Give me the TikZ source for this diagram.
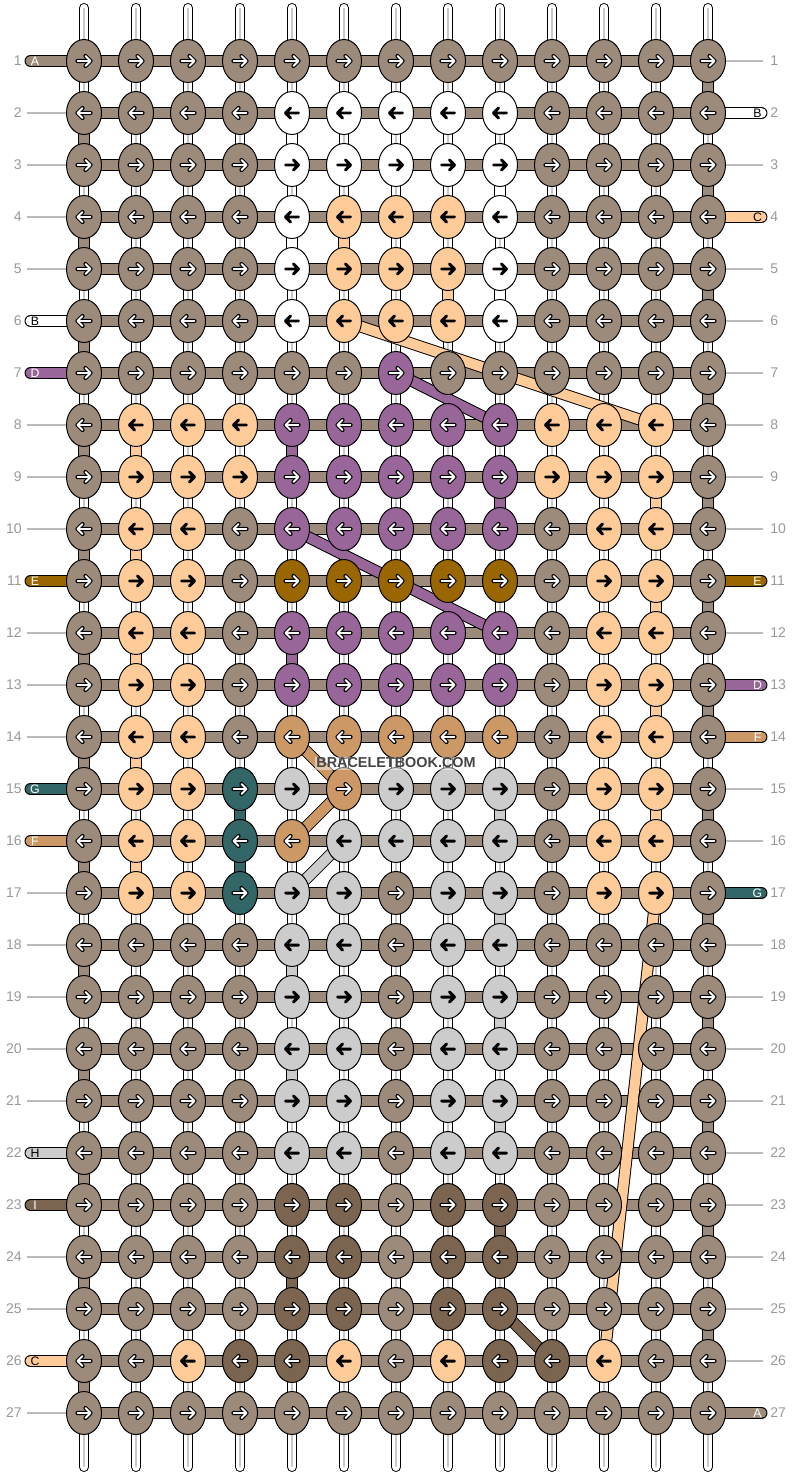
\documentclass[tikz,border=0pt]{standalone}
\usepackage{fontspec}
\setmainfont{Liberation Sans}
\usetikzlibrary{shapes.geometric}
\definecolor{colA}{HTML}{9C8B7B}
\definecolor{colB}{HTML}{FFFFFF}
\definecolor{colC}{HTML}{FFCC99}
\definecolor{colD}{HTML}{996699}
\definecolor{colE}{HTML}{996600}
\definecolor{colF}{HTML}{CC9966}
\definecolor{colG}{HTML}{336666}
\definecolor{colH}{HTML}{CCCCCC}
\definecolor{colI}{HTML}{7B6550}
\definecolor{numgray}{HTML}{999999}
\definecolor{rulegray}{HTML}{BBBBBB}
\definecolor{warpline}{HTML}{C8C8C8}
\definecolor{logogray}{HTML}{444444}
% 1 = white arrow / white letter, 0 = black
\def\arrA{1}\def\arrB{0}\def\arrC{0}\def\arrD{1}\def\arrE{1}
\def\arrF{1}\def\arrG{1}\def\arrH{0}\def\arrI{1}
\pgfdeclarelayer{strands}
\pgfsetlayers{strands,main}
\tikzset{
  knot/.style={ellipse, draw, line width=0.55pt, minimum width=0.7cm, minimum height=0.86cm, inner sep=0pt},
  strand/.style={line width=0.55pt, double distance=5.7pt},
  warp/.style={line width=0.55pt, double=white, double distance=4.6pt, line cap=round},
  stub/.style={strand, line cap=round},
  rownum/.style={font=\fontsize{8}{8}\selectfont, text=numgray, inner sep=0pt},
  tag/.style={font=\fontsize{7}{7}\selectfont, inner sep=0pt},
  pics/arrowmark/.style args={#1/#2}{code={
    \draw[#1, line width=#2, line cap=round, line join=round] (-6.5,0) -- (6.5,0) (1.5,-5) -- (6.5,0) -- (1.5,5);}},
}
\begin{document}
\begin{tikzpicture}[x=0.02cm, y=-0.02cm]
  \useasboundingbox (0,0) rectangle (792,1476);
  \coordinate (leftend) at (30.5,0);
  \coordinate (lefttag) at (35,0);
  \coordinate (leftrule) at (27,0);
  \coordinate (leftnum) at (22,0);
  \coordinate (rightend) at (761.5,0);
  \coordinate (righttag) at (757.5,0);
  \coordinate (rightrule) at (763,0);
  \coordinate (rightnum) at (770,0);
  % knots, row by row
  \foreach \row [count=\r] in {%
    {A,A,A,A,A,A,A,A,A,A,A,A,A},%
    {A,A,A,A,B,B,B,B,B,A,A,A,A},%
    {A,A,A,A,B,B,B,B,B,A,A,A,A},%
    {A,A,A,A,B,C,C,C,B,A,A,A,A},%
    {A,A,A,A,B,C,C,C,B,A,A,A,A},%
    {A,A,A,A,B,C,C,C,B,A,A,A,A},%
    {A,A,A,A,A,A,D,A,A,A,A,A,A},%
    {A,C,C,C,D,D,D,D,D,C,C,C,A},%
    {A,C,C,C,D,D,D,D,D,C,C,C,A},%
    {A,C,C,A,D,D,D,D,D,A,C,C,A},%
    {A,C,C,A,E,E,E,E,E,A,C,C,A},%
    {A,C,C,A,D,D,D,D,D,A,C,C,A},%
    {A,C,C,A,D,D,D,D,D,A,C,C,A},%
    {A,C,C,A,F,F,F,F,F,A,C,C,A},%
    {A,C,C,G,H,F,H,H,H,A,C,C,A},%
    {A,C,C,G,F,H,H,H,H,A,C,C,A},%
    {A,C,C,G,H,H,A,H,H,A,C,C,A},%
    {A,A,A,A,H,H,A,H,H,A,A,A,A},%
    {A,A,A,A,H,H,A,H,H,A,A,A,A},%
    {A,A,A,A,H,H,A,H,H,A,A,A,A},%
    {A,A,A,A,H,H,A,H,H,A,A,A,A},%
    {A,A,A,A,H,H,A,H,H,A,A,A,A},%
    {A,A,A,A,I,I,A,I,I,A,A,A,A},%
    {A,A,A,A,I,I,A,I,I,A,A,A,A},%
    {A,A,A,A,I,I,A,I,I,A,A,A,A},%
    {A,A,C,I,I,C,A,C,I,I,C,A,A},%
    {A,A,A,A,A,A,A,A,A,A,A,A,A}}{
    \pgfmathtruncatemacro\d{2*mod(\r,2)-1}
    \foreach \k [count=\c] in \row {
      \node[knot, fill=col\k] (k-\r-\c) at ({84+52*(\c-1)},{61+52*(\r-1)}) {};
      \ifnum\csname arr\k\endcsname=1
        \pic[xscale=\d] at (k-\r-\c.center) {arrowmark={black/2.4pt}};
        \pic[xscale=\d] at (k-\r-\c.center) {arrowmark={white/1.1pt}};
      \else
        \pic[xscale=\d] at (k-\r-\c.center) {arrowmark={black/1.7pt}};
      \fi
    }
    \node[rownum, anchor=east] (n-l-\r) at (k-\r-1.center -| leftnum) {\r};
    \node[rownum, anchor=west] (n-r-\r) at (k-\r-13.center -| rightnum) {\r};
  }
  \begin{pgfonlayer}{strands}
    % warp strings
    \foreach \c in {1,...,13} {
      \draw[warp] (k-1-\c.center) ++(0,-53) -- (k-27-\c.center) -- ++(0,54);
      \draw[warpline, line width=0.7pt] (k-1-\c.center) ++(0,-53) -- (k-27-\c.center) -- ++(0,54);
    }
    % rows of the background string, margin rules
    \foreach \r in {1,...,27} {
      \draw[rulegray, line width=0.6pt] (k-\r-1.center -| leftrule) -- (k-\r-1.west);
      \draw[rulegray, line width=0.6pt] (k-\r-13.east) -- (k-\r-13.center -| rightrule);
      \draw[strand, double=colA] (k-\r-1.center) -- (k-\r-13.center);
    }
    % turns at the edges
    \foreach \r in {2,4,...,26} {
      \pgfmathtruncatemacro\s{\r+1}
      \draw[strand, double=colA] (k-\r-1.center) -- (k-\s-1.center);
    }
    \foreach \r in {1,3,...,25} {
      \pgfmathtruncatemacro\s{\r+1}
      \draw[strand, double=colA] (k-\r-13.center) -- (k-\s-13.center);
    }
    % turns of the coloured strings
    \foreach \cl/\c/\r in {B/5/2,B/5/4,B/9/3,B/9/5,C/6/4,C/8/5,C/2/8,C/2/10,C/2/12,C/2/14,C/2/16,
        C/12/9,C/12/11,C/12/13,C/12/15,D/5/8,D/9/9,D/5/12,G/4/15,G/4/16,
        H/9/15,H/9/17,H/5/18,H/9/19,H/5/20,H/9/21,I/9/23,I/5/24} {
      \pgfmathtruncatemacro\s{\r+1}
      \draw[strand, double=col\cl] (k-\r-\c.center) -- (k-\s-\c.center);
    }
    % jumps
    \foreach \cl/\a/\b in {C/6-6/8-12,C/17-12/26-11,D/7-7/8-9,D/10-5/12-9,
        F/14-5/15-6,F/15-6/16-5,H/16-6/17-5,I/25-9/26-10} {
      \draw[strand, double=col\cl] (k-\a.center) -- (k-\b.center);
    }
    % loose ends
    \foreach \cl/\r in {A/1,B/6,D/7,E/11,G/15,F/16,H/22,I/23,C/26} {
      \draw[stub, double=col\cl] (k-\r-1.center) -- (k-\r-1.center -| leftend);
    }
    \foreach \cl/\r in {B/2,C/4,E/11,D/13,F/14,G/17,A/27} {
      \draw[stub, double=col\cl] (k-\r-13.center) -- (k-\r-13.center -| rightend);
    }
  \end{pgfonlayer}
  \foreach \cl/\r in {A/1,B/6,D/7,E/11,G/15,F/16,H/22,I/23,C/26} {
    \ifnum\csname arr\cl\endcsname=1 \def\tc{white}\else\def\tc{black}\fi
    \node[tag, text=\tc] (t-l-\r) at (k-\r-1.center -| lefttag) {\cl};
  }
  \foreach \cl/\r in {B/2,C/4,E/11,D/13,F/14,G/17,A/27} {
    \ifnum\csname arr\cl\endcsname=1 \def\tc{white}\else\def\tc{black}\fi
    \node[tag, text=\tc] (t-r-\r) at (k-\r-13.center -| righttag) {\cl};
  }
  \node[font=\bfseries\fontsize{8.2}{8.2}\selectfont, text=logogray, fill=white, fill opacity=0.45, text opacity=1, inner sep=0.8pt] (logo) at (396,763) {BRACELETBOOK.COM};
\end{tikzpicture}
\end{document}
